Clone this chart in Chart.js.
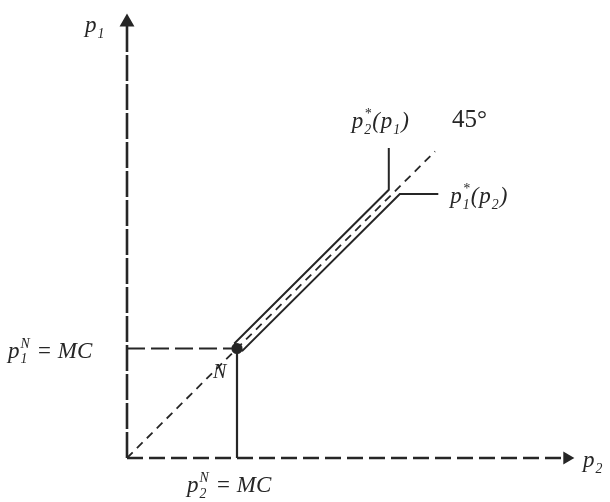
<!DOCTYPE html>
<html>
<head>
<meta charset="utf-8">
<script src="https://cdn.jsdelivr.net/npm/chart.js@4"></script>
<style>
  body { margin: 0; background: #fff; }
  .graph-container { width: 610px; height: 502px; }
</style>
</head>
<body>
<div class="graph-container">
  <canvas id="chart"></canvas>
</div>
<script>
// prices in units of marginal cost (MC = 1)
const mc = 1;
const axisMax = 4;
const yAxisLine = [{x: 0, y: 0}, {x: 0, y: 3.98}];
const xAxisLine = [{x: 0, y: 0}, {x: 4, y: 0}];
const diagonal45 = [{x: 0, y: 0}, {x: 2.8, y: 2.8}];
const mcLevelH = [{x: 0, y: 1}, {x: 1, y: 1}];
const mcLevelV = [{x: 1, y: 0}, {x: 1, y: 1}];
// p2*(p1) : slightly above the diagonal, ends going straight up
const bestReply2 = [{x: 1, y: 1}, {x: 0.98, y: 1.05}, {x: 2.38, y: 2.45}, {x: 2.38, y: 2.83}];
// p1*(p2) : slightly below the diagonal, ends going right
const bestReply1 = [{x: 1, y: 1}, {x: 1.05, y: 0.98}, {x: 2.48, y: 2.41}, {x: 2.83, y: 2.41}];
const nashPoint = [{x: 1, y: 1}];

const ink = '#262626';
const serif = '"Liberation Serif", "DejaVu Serif", serif';

function line(data, dash, width) {
  return {
    data: data,
    showLine: true,
    borderColor: ink,
    backgroundColor: ink,
    borderWidth: width || 2.2,
    borderDash: dash || [],
    pointRadius: 0,
    clip: false,
  };
}

// write p with sub/superscripts (stacked), italic serif like the textbook
function mathText(ctx, parts, x, y, size) {
  let cx = x, subStart = null;
  parts.forEach(([txt, kind]) => {
    let s = size, dy = 0;
    if (kind === 'sub') { s = size * 0.6; dy = size * 0.25; subStart = cx; }
    if (kind === 'sup') {
      s = size * 0.6; dy = -size * 0.42;
      if (subStart !== null) cx = subStart;
    }
    ctx.font = 'italic ' + s + 'px ' + serif;
    ctx.fillText(txt, cx, y + dy);
    const w = ctx.measureText(txt).width;
    if (kind === 'sup' && subStart !== null) {
      cx = Math.max(cx + w, subStart + ctx.measureText('2').width) + 1;
      subStart = null;
    } else {
      cx += w + 1;
      if (kind !== 'sub') subStart = null;
    }
  });
}

const labelsPlugin = {
  id: 'labels',
  afterDatasetsDraw(chart) {
    const ctx = chart.ctx;
    const xs = chart.scales.x, ys = chart.scales.y;
    const px = v => xs.getPixelForValue(v);
    const py = v => ys.getPixelForValue(v);
    ctx.save();
    ctx.fillStyle = ink;
    ctx.textBaseline = 'alphabetic';
    ctx.textAlign = 'left';
    const f = 23;
    // axis names
    mathText(ctx, [['p', 'b'], ['1', 'sub']], px(0) - 42, py(axisMax) + 12, f);
    mathText(ctx, [['p', 'b'], ['2', 'sub']], px(axisMax) + 16, py(0) + 9, f);
    // MC levels
    mathText(ctx, [['p', 'b'], ['1', 'sub'], ['N', 'sup'], [' = MC', 'b']], px(0) - 119, py(mc) + 9, f);
    mathText(ctx, [['p', 'b'], ['2', 'sub'], ['N', 'sup'], [' = MC', 'b']], px(mc) - 50, py(0) + 34, f);
    // Nash point
    mathText(ctx, [['N', 'b']], px(mc) - 24, py(mc) + 29, 20);
    // reaction functions
    mathText(ctx, [['p', 'b'], ['2', 'sub'], ['*', 'sup'], ['(', 'b'], ['p', 'b'], ['1', 'sub'], [')', 'b']],
      px(bestReply2[3].x) - 37, py(bestReply2[3].y) - 20, f);
    mathText(ctx, [['p', 'b'], ['1', 'sub'], ['*', 'sup'], ['(', 'b'], ['p', 'b'], ['2', 'sub'], [')', 'b']],
      px(bestReply1[3].x) + 12, py(bestReply1[3].y) + 9, f);
    ctx.font = '25px ' + serif;
    ctx.fillText('45°', px(diagonal45[1].x) + 17, py(diagonal45[1].y) - 24);
    ctx.restore();
  }
};

new Chart(document.getElementById('chart'), {
  type: 'scatter',
  data: {
    datasets: [
      Object.assign(line(yAxisLine, [26, 3], 2.6), {
        pointRadius: [0, 6], pointStyle: 'triangle', pointRotation: 0
      }),
      Object.assign(line(xAxisLine, [16, 6], 2.4), {
        pointRadius: [0, 5], pointStyle: 'triangle', pointRotation: 90
      }),
      line(diagonal45, [8, 6], 1.8),
      line(mcLevelH, [18, 6]),
      line(mcLevelV),
      line(bestReply2, [], 2),
      line(bestReply1, [], 2),
      Object.assign(line(nashPoint), {showLine: false, pointRadius: 4.5}),
    ]
  },
  options: {
    responsive: true,
    maintainAspectRatio: false,
    animation: false,
    layout: { padding: { left: 127, right: 43, top: 20, bottom: 44 } },
    plugins: { legend: { display: false }, tooltip: { enabled: false } },
    scales: {
      x: { type: 'linear', min: 0, max: axisMax, display: false },
      y: { type: 'linear', min: 0, max: axisMax, display: false },
    },
  },
  plugins: [labelsPlugin],
});
</script>
</body>
</html>
